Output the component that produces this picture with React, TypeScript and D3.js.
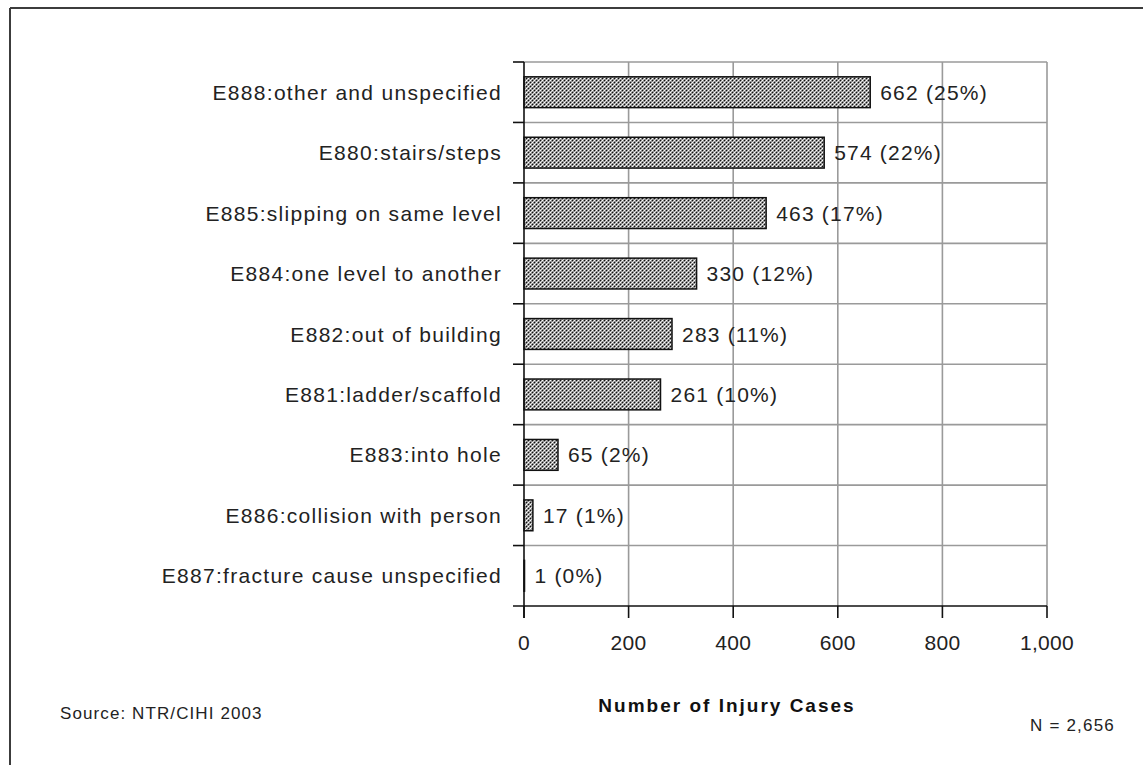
import React from "react";
import * as d3 from "d3";

const categories = [
  "E888:other and unspecified",
  "E880:stairs/steps",
  "E885:slipping on same level",
  "E884:one level to another",
  "E882:out of building",
  "E881:ladder/scaffold",
  "E883:into hole",
  "E886:collision with person",
  "E887:fracture cause unspecified",
];
const values = [662, 574, 463, 330, 283, 261, 65, 17, 1];
const percents = [25, 22, 17, 12, 11, 10, 2, 1, 0];
const xTicks = [0, 200, 400, 600, 800, 1000];

const W = 1143;
const H = 765;

export default function App() {
  const x = d3.scaleLinear().domain([0, 1000]).range([524, 1047]);
  const y = d3
    .scaleBand<string>()
    .domain(categories)
    .range([62, 606])
    .paddingInner(0.49)
    .paddingOuter(0.245);
  const step = y.step();
  const top = 62;
  const bottom = 606;
  const boundaries = d3.range(categories.length + 1).map((i) => top + i * step);
  const fmt = d3.format(",");
  const font = "'Liberation Sans', Arial, sans-serif";

  return (
    <svg
      width={W}
      height={H}
      style={{ position: "absolute", left: 0, top: 0, background: "#fff" }}
      fontFamily={font}
    >
      <defs>
        <pattern id="hatch" width="4" height="4" patternUnits="userSpaceOnUse">
          <rect width="4" height="4" fill="#909090" />
          <rect x="0" y="0" width="1" height="1" fill="#111" />
          <rect x="2" y="2" width="1" height="1" fill="#111" />
          <rect x="2" y="0" width="1" height="1" fill="#fff" />
          <rect x="0" y="2" width="1" height="1" fill="#fff" />
          <rect x="1" y="1" width="1" height="1" fill="#d8d8d8" />
          <rect x="3" y="3" width="1" height="1" fill="#d8d8d8" />
        </pattern>
      </defs>
      <rect x={0} y={0} width={W} height={H} fill="#fff" />
      {/* outer frame */}
      <line x1={10} y1={8} x2={W + 10} y2={8} stroke="#3c3c3c" strokeWidth={2} />
      <line x1={10} y1={8} x2={10} y2={H + 10} stroke="#3c3c3c" strokeWidth={2} />

      {/* gridlines */}
      {boundaries.slice(0, -1).map((b, i) => (
        <line key={"h" + i} x1={524} x2={x(1000)} y1={b} y2={b} stroke="#9a9a9a" strokeWidth={1.6} />
      ))}
      {xTicks.slice(1).map((t) => (
        <line key={"v" + t} x1={x(t)} x2={x(t)} y1={top} y2={bottom} stroke="#9a9a9a" strokeWidth={1.6} />
      ))}

      {/* bars */}
      {categories.map((c, i) => (
        <rect
          key={c}
          x={x(0)}
          y={y(c)!}
          width={Math.max(0, x(values[i]) - x(0))}
          height={y.bandwidth()}
          fill="url(#hatch)"
          stroke="#111"
          strokeWidth={1.5}
        />
      ))}

      {/* axes */}
      <line x1={524} x2={524} y1={top} y2={bottom + 12} stroke="#111" strokeWidth={1.6} />
      <line x1={513} x2={x(1000)} y1={bottom} y2={bottom} stroke="#111" strokeWidth={1.6} />
      {boundaries.slice(0, -1).map((b, i) => (
        <line key={"yt" + i} x1={513} x2={524} y1={b} y2={b} stroke="#111" strokeWidth={1.6} />
      ))}
      {xTicks.map((t) => (
        <line key={"xt" + t} x1={x(t)} x2={x(t)} y1={bottom} y2={bottom + 12} stroke="#111" strokeWidth={1.6} />
      ))}
      {xTicks.map((t) => (
        <text key={"xl" + t} x={x(t)} y={650} textAnchor="middle" fontSize={21} letterSpacing={0.3} fill="#222">
          {fmt(t)}
        </text>
      ))}

      {/* category labels */}
      {categories.map((c) => (
        <text
          key={"cl" + c}
          x={502}
          y={y(c)! + y.bandwidth() / 2}
          dy="0.36em"
          textAnchor="end"
          fontSize={21}
          letterSpacing={1.3}
          fill="#222"
        >
          {c}
        </text>
      ))}

      {/* value labels */}
      {categories.map((c, i) => (
        <text
          key={"vl" + c}
          x={x(values[i]) + 10}
          y={y(c)! + y.bandwidth() / 2}
          dy="0.36em"
          fontSize={21}
          letterSpacing={1.2}
          fill="#222"
        >
          {`${values[i]} (${percents[i]}%)`}
        </text>
      ))}

      <text x={727} y={712} textAnchor="middle" fontSize={19} fontWeight="bold" letterSpacing={2} fill="#111">
        Number of Injury Cases
      </text>
      <text x={60} y={719} fontSize={17} letterSpacing={1.1} fill="#222">
        Source: NTR/CIHI 2003
      </text>
      <text x={1030} y={731} fontSize={17} letterSpacing={1.2} fill="#222">
        N = 2,656
      </text>
    </svg>
  );
}
